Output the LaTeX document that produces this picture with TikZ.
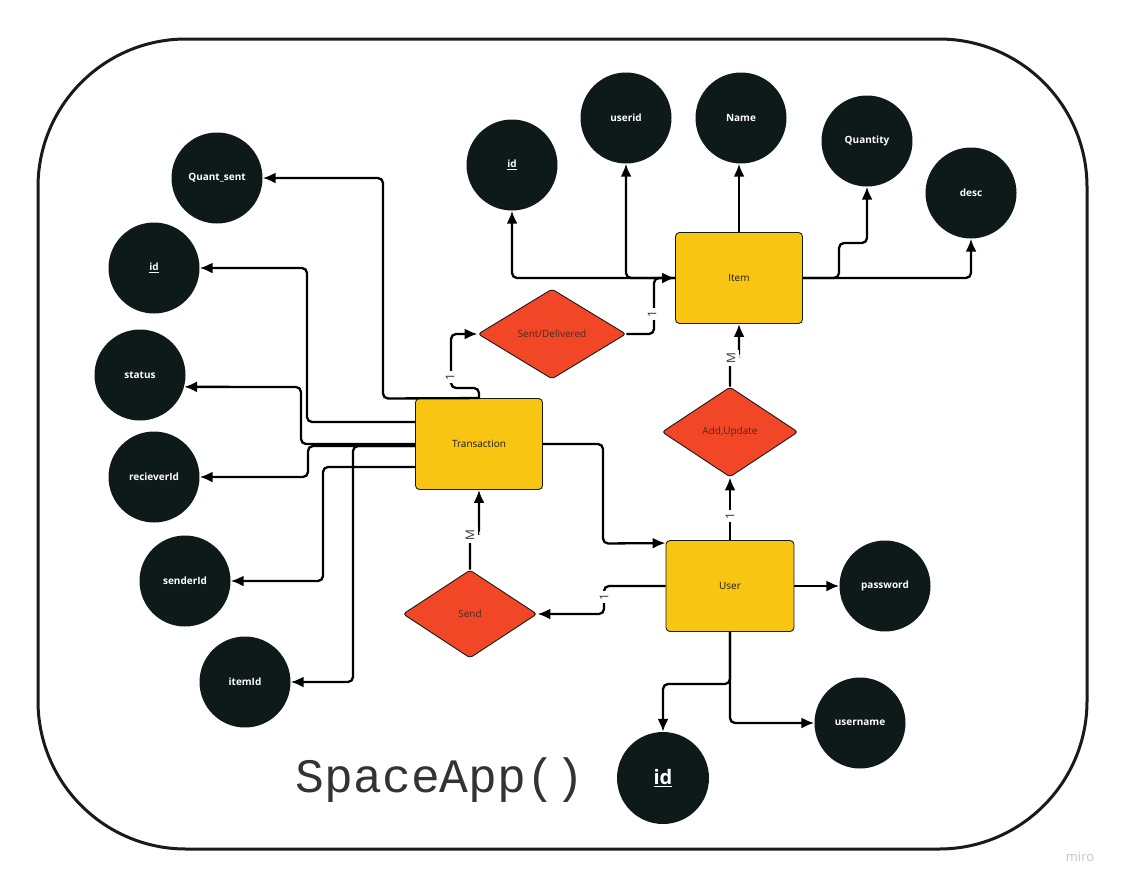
\documentclass[tikz,border=0pt]{standalone}
\usepackage{fontspec}
\setmainfont{Open Sans}
\setmonofont{Liberation Mono}
\usetikzlibrary{shapes.geometric,arrows.meta}
\definecolor{attrbg}{HTML}{0E191A}
\definecolor{entfill}{HTML}{F8C513}
\definecolor{relfill}{HTML}{F24726}
\definecolor{edgec}{HTML}{1A1A1A}
\definecolor{reltext}{HTML}{4A2A22}
\definecolor{cardtext}{HTML}{333333}
\definecolor{titlec}{HTML}{333333}
\definecolor{miroc}{HTML}{C4C4CE}
\begin{document}
\begin{tikzpicture}[x=1pt,y=-1pt,
  attr/.style={circle,fill=attrbg,text=white,minimum size=91pt,inner sep=0pt,font=\fontsize{10}{12}\selectfont\bfseries},
  ent/.style={rectangle,rounded corners=4pt,fill=entfill,draw=edgec,line width=0.9pt,minimum width=127pt,minimum height=91pt,font=\fontsize{10}{12}\selectfont,text=edgec},
  rel/.style={diamond,fill=relfill,draw=edgec,line width=0.9pt,inner sep=0pt,rounded corners=3pt,font=\fontsize{10}{12}\selectfont,text=reltext},
  conn/.style={draw=black,line width=2.3pt,rounded corners=5pt,-{Latex[length=13pt,width=11pt]}},
  card/.style={fill=white,inner xsep=3pt,inner ysep=4pt,rotate=90,font=\fontsize{12}{12}\selectfont,text=cardtext}
]
\useasboundingbox (0,0) rectangle (1124,889);
\draw[line width=3pt,draw=edgec,rounded corners=148pt] (38,39) rectangle (1087,849);

% entities
\node[ent] (item) at (739,278) {Item};
\node[ent] (tr) at (479,444) {Transaction};
\node[ent,minimum width=128pt] (user) at (730,586) {User};

% relationships
\node[rel,minimum width=148pt,minimum height=90pt] (sd) at (552,334) {Sent/Delivered};
\node[rel,minimum width=136pt,minimum height=90pt] (au) at (730,432) {Add,Update};
\node[rel,minimum width=134pt,minimum height=88pt] (send) at (470,614) {Send};

% item attributes
\node[attr] (iid) at (512,165) {\underline{id}};
\node[attr] (iuser) at (626,118) {userid};
\node[attr] (iname) at (741,118) {Name};
\node[attr] (iqty) at (867,141) {Quantity};
\node[attr] (idesc) at (971,193) {desc};

% transaction attributes
\node[attr] (tqs) at (217,178) {Quant\_sent};
\node[attr] (tid) at (154,268) {\underline{id}};
\node[attr] (tstat) at (140,375) {status};
\node[attr] (trec) at (154,477) {recieverId};
\node[attr] (tsend) at (185,581) {senderId};
\node[attr] (titem) at (245,682) {itemId};

% user attributes
\node[attr] (upass) at (885,586) {password};
\node[attr] (uname) at (860,723) {username};
\node[attr,minimum size=92pt,font=\fontsize{20}{24}\selectfont\bfseries] (uid) at (663,778) {\underline{id}};

% connectors: item
\draw[conn] (item.west) -| (iid.south);
\draw[conn] (item.west) -| (iuser.south);
\draw[conn] (item.north) -- (item.north |- iname.south);
\draw[conn] (item.east) -- (839,278) -- (839,243) -| (iqty.south);
\draw[conn] (item.east) -| (idesc.south);
\draw[conn] (sd.east) -- (654,334) |- (item.west);

% connectors: transaction
\draw[conn] (tr.north) -- (479,388) -| (451,334) -- (sd.west);
\draw[conn] (tr.north) -- (383,398.5) |- (tqs.east);
\draw[conn] ([yshift=22pt]tr.west) -| (307,268) -- (tid.east);
\draw[conn] (tr.west) -| (301,387) -- (tstat.-15);
\draw[conn] ([yshift=-2pt]tr.west) -| (308,477) -- (trec.east);
\draw[conn] ([yshift=-2pt]tr.west) -| (353,682) -- (titem.east);
\draw[conn] ([yshift=-23pt]tr.west) -| (323,581) -- (tsend.east);
\draw[conn] (send.north) -- (470,535) -- (479,535) -- (tr.south);
\draw[conn] (tr.east) -| (603,543.5) -- ([yshift=-3pt]user.north west);

% connectors: user
\draw[conn] (user.west) -- (604,586) |- (send.east);
\draw[conn] (user.north) -- (au.south);
\draw[conn] (au.north) -- (730,358) -- (739,358) -- (item.south);
\draw[conn] (user.east) -- (upass.west);
\draw[conn] (user.south) |- (uname.west);
\draw[conn] (user.south) -- (730,684) -| (uid.north);

% cardinalities
\node[card] (c1) at (652,314) {1};
\node[card] (c2) at (450,377) {1};
\node[card] (c3) at (730,516) {1};
\node[card] (c4) at (604,597) {1};
\node[card] (c5) at (470,535) {M};
\node[card] (c6) at (731,358) {M};

% title and watermark
\node[font=\ttfamily\fontsize{48}{48}\selectfont,text=titlec] (title) at (440,780) {SpaceApp()};
\node[font=\fontsize{13}{13}\selectfont,text=miroc] (miro) at (1080,857) {miro};
\end{tikzpicture}
\end{document}
